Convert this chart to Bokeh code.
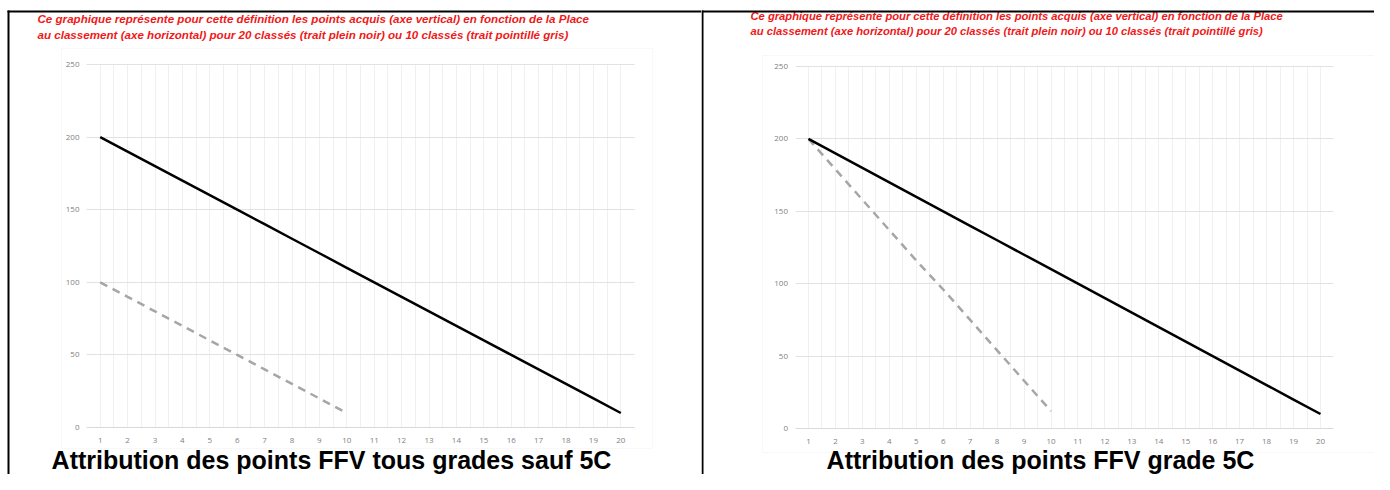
from bokeh.plotting import figure
from bokeh.models import Range1d, FixedTicker, Label, BoxAnnotation
from bokeh.layouts import row
from bokeh.embed import file_html
from bokeh.resources import INLINE

# ---- data ----
places_20 = [1, 2, 3, 4, 5, 6, 7, 8, 9, 10, 11, 12, 13, 14, 15, 16, 17, 18, 19, 20]
points_20 = [200, 190, 180, 170, 160, 150, 140, 130, 120, 110, 100, 90, 80, 70, 60, 50, 40, 30, 20, 10]
places_10 = [1, 2, 3, 4, 5, 6, 7, 8, 9, 10]
points_10_std = [100, 90, 80, 70, 60, 50, 40, 30, 20, 10]
points_10_5c = [200, 179, 158, 137, 116, 96, 75, 54, 33, 12]
y_ticks = [0, 50, 100, 150, 200, 250]
x_labels = {i: str(i) for i in places_20}
title_line1 = "Ce graphique représente pour cette définition les points acquis (axe vertical) en fonction de la Place"
title_line2 = "au classement (axe horizontal) pour 20 classés (trait plein noir) ou 10 classés (trait pointillé gris)"
caption_left = "Attribution des points FFV tous grades sauf 5C"
caption_right = "Attribution des points FFV grade 5C"

RED = "#f01818"
LABEL_GREY = "#7f7f7f"
H = 474


def make_panel(W, X0, px_half, kx, py_zero, ky, dashed_y, caption, cap_cx,
               title_x, title_y1, title_y2, title_size, borders, chart_box):
    # pixel (picture coords) -> data coords
    def lx(px):
        return 0.5 + (px - px_half) / kx

    def ly(py):
        return (py_zero - py) / ky

    p = figure(width=W, height=H, output_backend="svg", toolbar_location=None,
               x_range=Range1d(lx(X0), lx(X0 + W)), y_range=Range1d(ly(H), ly(0)),
               min_border=0, min_border_left=0, min_border_right=0,
               min_border_top=0, min_border_bottom=0)
    p.outline_line_color = None
    p.background_fill_color = "white"
    p.border_fill_color = "white"

    # faint chart-area box (Excel chart border)
    bl, br, bt, bb = chart_box
    p.add_layout(BoxAnnotation(left=lx(bl), right=lx(br), top=ly(bt), bottom=ly(bb),
                               fill_color=None, line_color="#e8e8e8", line_width=1,
                               level="underlay"))

    # axes, fixed inside the frame
    p.xaxis.fixed_location = 0
    p.xaxis.bounds = (0.5, 20.5)
    p.xaxis.ticker = FixedTicker(ticks=places_20)
    p.xaxis.major_label_overrides = x_labels
    p.xaxis.axis_line_color = "#d9d9d9"
    p.xaxis.axis_line_width = 1
    p.xaxis.major_tick_line_color = None
    p.xaxis.major_tick_out = 0
    p.xaxis.major_tick_in = 0
    p.xaxis.minor_tick_line_color = None
    p.xaxis.major_label_standoff = 10
    p.xaxis.major_label_text_font = "Open Sans"
    p.xaxis.major_label_text_font_size = "8px"
    p.xaxis.major_label_text_color = LABEL_GREY

    p.yaxis.fixed_location = 0.5
    p.yaxis.bounds = (0, 250)
    p.yaxis.ticker = FixedTicker(ticks=y_ticks)
    p.yaxis.axis_line_color = None
    p.yaxis.major_tick_line_color = None
    p.yaxis.major_tick_out = 0
    p.yaxis.major_tick_in = 0
    p.yaxis.minor_tick_line_color = None
    p.yaxis.major_label_standoff = 7
    p.yaxis.major_label_text_font = "Open Sans"
    p.yaxis.major_label_text_font_size = "8px"
    p.yaxis.major_label_text_color = LABEL_GREY

    # grids limited to the plot area
    p.ygrid.ticker = FixedTicker(ticks=y_ticks[1:])
    p.ygrid.cross_bounds = (0.5, 20.5)
    p.ygrid.grid_line_color = "#e2e2e2"
    p.ygrid.grid_line_width = 1
    p.xgrid.ticker = FixedTicker(ticks=[t / 2 for t in range(2, 41)])
    p.xgrid.cross_bounds = (0, 250)
    p.xgrid.grid_line_color = "#f0f0f0"
    p.xgrid.grid_line_width = 1

    # series
    p.line(places_10, dashed_y, line_color="#a6a6a6", line_width=2.5, line_dash="8 6")
    p.line(places_20, points_20, line_color="black", line_width=2.5)

    # texts (screen units: x from canvas left, y up from canvas bottom)
    for txt, ty in ((title_line1, title_y1), (title_line2, title_y2)):
        p.add_layout(Label(x=title_x - X0, y=H - ty, x_units="screen", y_units="screen",
                           text=txt, text_font="Liberation Sans", text_font_style="bold italic",
                           text_font_size=title_size, text_color=RED,
                           text_align="left", text_baseline="middle"))
    p.add_layout(Label(x=cap_cx - X0, y=1, x_units="screen", y_units="screen",
                       text=caption, text_font="Liberation Sans", text_font_style="bold",
                       text_font_size="25px", text_color="black",
                       text_align="center", text_baseline="bottom"))

    # black table borders
    for (l, r, t, b) in borders:
        p.add_layout(BoxAnnotation(left=lx(l), right=lx(r), top=ly(t), bottom=ly(b),
                                   fill_color="black", fill_alpha=1, line_color=None))
    return p


left = make_panel(701, 0, 86, 548 / 20, 427, 363 / 250, points_10_std, caption_left, 331,
                  37, 18, 34, "11.6px",
                  [(7, 701, 10, 12), (7, 9, 10, H)],
                  (61, 652, 48, 448))
right = make_panel(673, 701, 794.5, 512 / 19, 428, 362 / 250, points_10_5c, caption_right, 1040,
                   750, 15, 30, "11.2px",
                   [(701, 1374, 10, 12), (701, 703, 10, H)],
                   (762, 1385, 55, 452))

layout = row(left, right)
open("out.html", "w").write(file_html(layout, INLINE))
